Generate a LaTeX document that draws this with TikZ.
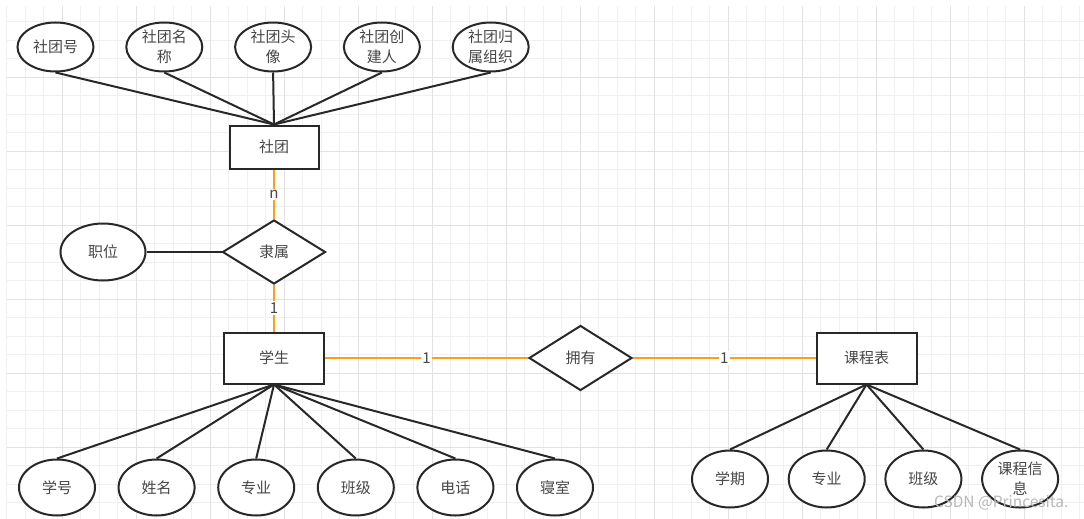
\documentclass[tikz,border=0pt]{standalone}
\usepackage{fontspec}
\newfontfamily\cjk{Noto Sans CJK SC}
\usetikzlibrary{positioning,shapes.geometric}
\definecolor{erOrange}{RGB}{255,160,20}
\definecolor{erInk}{RGB}{40,40,40}
\definecolor{erText}{RGB}{70,70,70}
\definecolor{gridMinor}{RGB}{240,240,240}
\definecolor{gridMajor}{RGB}{226,226,226}
\tikzset{
	erbox/.style={
		draw=erInk,
		line width=2pt,
		fill=white,
		align=center,
		inner sep=0pt,
		text=erText,
		font=\cjk\fontsize{15}{20}\selectfont
	},
	erEntity/.style={erbox, rectangle, minimum width=100pt, minimum height=51pt},
	erAttr/.style={erbox, ellipse, minimum width=76pt, minimum height=49pt},
	erRelation/.style={erbox, diamond, minimum width=103pt, minimum height=64pt},
	erLink/.style={draw=erInk, line width=2pt},
	erCard/.style={draw=erOrange, line width=2.6pt},
	erCardLabel/.style={fill=white, inner sep=1.5pt, text=erText, font=\cjk\fontsize{15}{18}\selectfont}
}
\begin{document}
\begin{tikzpicture}[x=1pt, y=-1pt]
	\useasboundingbox (0,0) rectangle (1084,519);
	\fill[white] (0,0) rectangle (1084,519);

	% Background grid
	\begin{scope}[shift={(62.3,3.3)}]
		\draw[gridMinor, line width=0.8pt, step=18.5pt] (-55.5,2.7) grid (1021.7,515.7);
		\draw[gridMajor, line width=0.8pt, step=74pt] (-55.5,2.7) grid (1021.7,515.7);
	\end{scope}

	% Club entity and its attributes
	\node[erEntity, minimum width=89pt, minimum height=43pt] (club) at (274,147) {社团};
	\node[erAttr] (clubNo) at (55.5,47) {社团号};
	\node[erAttr, right=30.8pt of clubNo] (clubName) {社团名\\称};
	\node[erAttr, right=30.8pt of clubName] (clubAvatar) {社团头\\像};
	\node[erAttr, right=30.8pt of clubAvatar] (clubFounder) {社团创\\建人};
	\node[erAttr, right=30.8pt of clubFounder] (clubOrg) {社团归\\属组织};

	% Membership relation
	\node[erRelation] (belong) at (274,252) {隶属};
	\node[erAttr, minimum width=85pt, minimum height=57pt] (post) at (103,252) {职位};

	% Student, course table and the relation between them
	\node[erEntity] (student) at (274,358) {学生};
	\node[erRelation, minimum height=65pt] (own) at (580.5,358) {拥有};
	\node[erEntity] (course) at (866.5,358) {课程表};

	% Student attributes
	\node[erAttr, minimum height=56pt] (stuNo) at (57,487.5) {学号};
	\node[erAttr, minimum height=56pt, right=21.6pt of stuNo] (stuName) {姓名};
	\node[erAttr, minimum height=56pt, right=21.6pt of stuName] (stuMajor) {专业};
	\node[erAttr, minimum height=56pt, right=21.6pt of stuMajor] (stuClass) {班级};
	\node[erAttr, minimum height=56pt, right=21.6pt of stuClass] (stuPhone) {电话};
	\node[erAttr, minimum height=56pt, right=21.6pt of stuPhone] (stuDorm) {寝室};

	% Course attributes
	\node[erAttr, minimum height=57pt] (crsTerm) at (730,479) {学期};
	\node[erAttr, minimum height=57pt, right=18.7pt of crsTerm] (crsMajor) {专业};
	\node[erAttr, minimum height=57pt, right=18.7pt of crsMajor] (crsClass) {班级};
	\node[erAttr, minimum height=57pt, right=18.7pt of crsClass] (crsInfo) {课程信\\息};

	% Attribute links
	\draw[erLink] (clubNo.south) -- (club.north);
	\draw[erLink] (clubName.south) -- (club.north);
	\draw[erLink] (clubAvatar.south) -- (club.north);
	\draw[erLink] (clubFounder.south) -- (club.north);
	\draw[erLink] (clubOrg.south) -- (club.north);
	\draw[erLink] (post) -- (belong);

	\draw[erLink] (student.south) -- (stuNo.north);
	\draw[erLink] (student.south) -- (stuName.north);
	\draw[erLink] (student.south) -- (stuMajor.north);
	\draw[erLink] (student.south) -- (stuClass.north);
	\draw[erLink] (student.south) -- (stuPhone.north);
	\draw[erLink] (student.south) -- (stuDorm.north);

	\draw[erLink] (course.south) -- (crsTerm.north);
	\draw[erLink] (course.south) -- (crsMajor.north);
	\draw[erLink] (course.south) -- (crsClass.north);
	\draw[erLink] (course.south) -- (crsInfo.north);

	% Relationship links with cardinalities
	\draw[erCard] (club) -- node[erCardLabel]{n} (belong);
	\draw[erCard] (belong) -- node[erCardLabel]{1} (student);
	\draw[erCard] (student) -- node[erCardLabel]{1} (own);
	\draw[erCard] (own) -- node[erCardLabel]{1} (course);

	% Watermark
	\node[anchor=east, text=black!28, font=\cjk\fontsize{15.5}{15.5}\selectfont] (mark) at (1072,503) {CSDN @Princesita.};
\end{tikzpicture}
\end{document}
